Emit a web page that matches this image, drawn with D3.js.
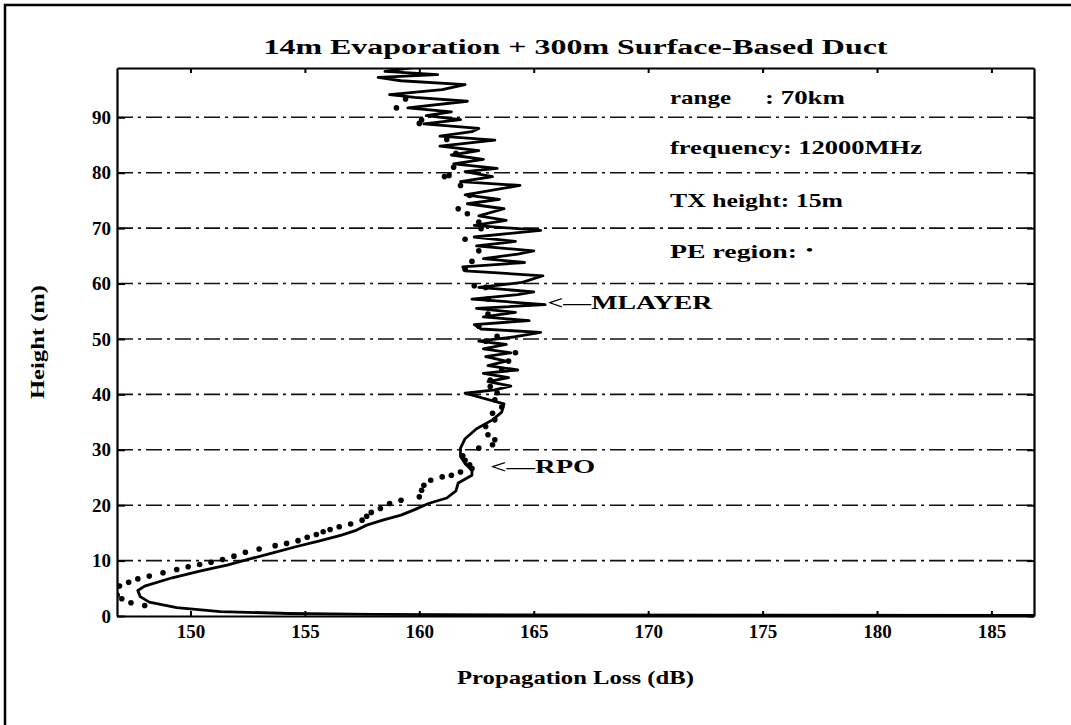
<!DOCTYPE html>
<html>
<head>
<meta charset="utf-8">
<script src="https://cdn.jsdelivr.net/npm/d3@7"></script>
<style>
  html, body { margin: 0; padding: 0; background: #fff; }
  svg { display: block; }
  text { font-family: "Liberation Serif", "Times New Roman", serif; font-weight: bold; fill: #000; }
</style>
</head>
<body>
<svg id="chart" width="1071" height="725"></svg>
<script>
// ---------------- data ----------------
const xTicks = [150, 155, 160, 165, 170, 175, 180, 185];
const yTicks = [0, 10, 20, 30, 40, 50, 60, 70, 80, 90];
const gridHeights = [10, 20, 30, 40, 50, 60, 70, 80, 90];

const titleText = "14m Evaporation + 300m Surface-Based Duct";
const xLabel = "Propagation Loss (dB)";
const yLabel = "Height (m)";

// MLAYER (solid line): propagation loss (dB) and height (m)
const mlayerLoss = [186.86, 175, 165, 158, 154.3, 151.3, 149.4, 148.2, 147.8, 147.7, 148.0, 149.2, 150.5, 151.6, 152.6, 153.6, 154.6, 155.6, 156.6, 157.2, 157.7, 158.4, 159.2, 159.8, 160.4, 161.2, 161.6, 161.7, 162.3, 162.3, 162.0, 161.8, 161.8, 162.0, 162.5, 163.2, 163.6, 163.7,
  162.0, 163.3, 164.0, 163.0, 163.9, 162.8, 164.3, 163.0, 163.8, 162.9, 164.0, 162.8, 163.8, 162.6, 164.2, 165.3, 162.7, 162.4, 164.8, 162.8, 164.2, 162.5, 165.5, 162.3, 164.3, 165.0, 162.6, 164.5, 165.4, 162.0, 161.9, 164.6, 162.8, 164.3, 165.0, 162.5, 164.2, 162.4, 165.3, 162.4, 163.8, 162.6, 163.7, 162.1, 163.5, 162.0, 164.4, 161.8, 163.2, 162.0, 163.4, 161.5, 162.8, 161.4, 162.6, 160.9, 163.3, 160.9, 162.3, 162.6, 160.2, 161.8, 160.3, 161.4, 159.5, 162.1, 159.8, 158.7, 161.0, 162.0, 159.2, 158.2, 160.8, 158.5, 159.8, 158.6];
const mlayerHeight = [0.1, 0.15, 0.2, 0.3, 0.45, 0.8, 1.5, 2.5, 3.5, 4.6, 5.4, 6.9, 8.2, 9.2, 10.3, 11.4, 12.5, 13.5, 14.6, 15.4, 16.4, 17.3, 18.2, 19.2, 20.3, 21.3, 22.6, 24.0, 25.4, 26.3, 27.5, 28.8, 30.3, 32.0, 33.8, 35.4, 36.8, 38.3,
  40.2, 40.8, 41.5, 42.3, 43.0, 43.8, 44.4, 45.2, 46.0, 46.8, 47.5, 48.2, 49.0, 49.6, 50.4, 51.2, 51.8, 52.6, 53.3, 54.0, 54.8, 55.5, 56.2, 57.2, 58.0, 58.5, 59.3, 60.2, 61.4, 62.3, 63.0, 63.8, 64.5, 65.3, 65.9, 66.8, 67.6, 68.4, 69.6, 70.5, 71.4, 72.2, 73.5, 74.4, 75.2, 76.0, 77.7, 78.4, 79.3, 80.2, 80.8, 81.6, 82.4, 83.2, 84.0, 84.8, 85.9, 86.6, 87.4, 88.0, 88.8, 89.6, 90.3, 91.0, 91.7, 92.9, 93.6, 94.1, 95.0, 95.9, 96.6, 97.2, 97.7, 98.3, 99.0, 99.5];

// RPO (dotted): propagation loss (dB) and height (m)
const rpoLoss = [148.0, 147.4, 147.0, 146.8, 146.7, 146.9, 147.3, 147.7, 148.2, 148.8, 149.4, 149.9, 150.4, 150.9, 151.4, 151.9, 152.4, 153.0, 153.7, 154.2, 154.7, 155.1, 155.5, 155.8, 156.1, 156.5, 157.0, 157.5, 157.7, 157.9, 158.3, 158.7, 159.2, 160.0, 160.1, 160.2, 160.5, 161.0, 161.4, 161.8, 162.3, 162.2, 162.0, 161.9, 162.6, 163.2, 163.3, 163.0, 162.9, 163.3, 163.2, 163.6, 163.3, 163.4, 163.1, 163.1, 163.6, 163.9, 164.2, 162.9, 163.4, 162.6, 163.0, 163.0, 162.9, 162.4, 162.0, 162.3, 162.6, 162.0, 162.7, 162.6, 162.1, 161.7, 162.2, 161.8, 161.1, 161.3, 161.5, 161.6, 161.2, 160.0, 160.1, 159.0, 159.4];
const rpoHeight = [1.9, 2.4, 3.1, 3.8, 4.6, 5.4, 6.1, 6.7, 7.2, 7.8, 8.4, 8.9, 9.3, 9.7, 10.2, 10.8, 11.5, 12.1, 12.7, 13.1, 13.6, 14.2, 14.7, 15.2, 15.6, 16.1, 16.6, 17.3, 18.0, 18.7, 19.4, 20.3, 20.9, 21.5, 22.7, 23.6, 24.5, 25.1, 25.4, 26.0, 26.6, 27.3, 28.1, 28.9, 30.3, 30.9, 31.8, 32.7, 34.2, 35.4, 36.6, 37.7, 39.0, 40.3, 41.4, 42.6, 44.5, 46.0, 47.5, 49.6, 50.5, 52.3, 54.5, 57.2, 59.3, 59.6, 62.6, 64.0, 65.9, 68.0, 69.9, 71.1, 72.6, 73.5, 75.9, 77.7, 79.3, 79.5, 81.0, 83.5, 86.0, 88.9, 89.5, 91.7, 93.3];

// annotation anchors in data units (loss, height)
const mlayerArrow = [165.6, 56.6];
const rpoArrow = [163.1, 27.0];

// ---------------- layout ----------------
const L = 117, R = 1034, T = 68, B = 616;
const svg = d3.select("#chart");

const x = d3.scaleLinear().domain([146.79, 186.86]).range([L, R]);
const y = d3.scaleLinear().domain([0, 98.9]).range([B, T]);

// outer frame (top and left edge of the scanned page)
svg.append("path")
  .attr("d", `M5,725 V5 H1071`)
  .attr("fill", "none").attr("stroke", "#000").attr("stroke-width", 2.5);

svg.append("clipPath").attr("id", "plotclip")
  .append("rect").attr("x", L).attr("y", T).attr("width", R - L).attr("height", B - T);

// grid lines (dash-dot)
svg.append("g").selectAll("line").data(gridHeights).join("line")
  .attr("x1", L).attr("x2", R)
  .attr("y1", d => y(d)).attr("y2", d => y(d))
  .attr("stroke", "#111").attr("stroke-width", 1.6)
  .attr("stroke-dasharray", "16,5,3,5");

// axes
function styleAxis(g) {
  g.selectAll("path.domain").attr("stroke", "#000").attr("stroke-width", 2.2);
  g.selectAll(".tick line").attr("stroke", "#000").attr("stroke-width", 2);
  g.selectAll(".tick text").attr("font-size", 19).attr("font-family", "Liberation Serif").attr("font-weight", "bold").attr("fill", "#000");
}
svg.append("g").attr("transform", `translate(${L},0)`)
  .call(d3.axisLeft(y).tickValues(yTicks).tickSizeInner(-8).tickSizeOuter(0).tickPadding(6).tickFormat(d3.format("d")))
  .call(styleAxis);
svg.append("g").attr("transform", `translate(${R},0)`)
  .call(d3.axisRight(y).tickValues(yTicks).tickSizeInner(-7).tickSizeOuter(0).tickFormat(""))
  .call(styleAxis);
svg.append("g").attr("transform", `translate(0,${B})`)
  .call(d3.axisBottom(x).tickValues(xTicks).tickSizeInner(-5).tickSizeOuter(0).tickPadding(9).tickFormat(d3.format("d")))
  .call(styleAxis);
svg.append("g").attr("transform", `translate(0,${T})`)
  .call(d3.axisTop(x).tickValues(xTicks).tickSizeInner(-5).tickSizeOuter(0).tickFormat(""))
  .call(styleAxis);

// series
const plot = svg.append("g").attr("clip-path", "url(#plotclip)");
const mlayer = mlayerLoss.map((v, i) => [v, mlayerHeight[i]]);
const rpo = rpoLoss.map((v, i) => [v, rpoHeight[i]]);

plot.append("path")
  .datum(mlayer)
  .attr("d", d3.line().x(d => x(d[0])).y(d => y(d[1])))
  .attr("fill", "none").attr("stroke", "#000").attr("stroke-width", 2.8)
  .attr("stroke-linejoin", "round");

plot.append("g").selectAll("circle").data(rpo).join("circle")
  .attr("cx", d => x(d[0])).attr("cy", d => y(d[1])).attr("r", 2.8).attr("fill", "#000");

// text helper: stretched serif text (the scanned lettering is wide)
function label(px, py, str, len, size = 19, anchor = "start") {
  const t = svg.append("text").attr("x", px).attr("y", py).attr("font-size", size)
    .attr("text-anchor", anchor).text(str);
  if (len) t.attr("textLength", len).attr("lengthAdjust", "spacingAndGlyphs");
  return t;
}

// titles (centred on the axes box)
label((L + R) / 2, 54, titleText, 624, 20, "middle");
label((L + R) / 2, 684, xLabel, 237, 19, "middle");
svg.append("text").attr("transform", `translate(44,${(T + B) / 2}) rotate(-90)`)
  .attr("text-anchor", "middle").attr("font-size", 19)
  .attr("textLength", 114).attr("lengthAdjust", "spacingAndGlyphs")
  .text(yLabel);

// info block
label(670, 104, "range", 61);
label(765, 104, ": 70km", 80);
label(670, 154, "frequency: 12000MHz", 252);
label(670, 207, "TX height: 15m", 173);
label(670, 258, "PE region:", 127);
label(806, 254, "•", 7, 12);

// arrow labels
label(x(mlayerArrow[0]), y(mlayerArrow[1]) + 7, "<—MLAYER", 165);
label(x(rpoArrow[0]), y(rpoArrow[1]) + 7, "<—RPO", 105);
</script>
</body>
</html>
